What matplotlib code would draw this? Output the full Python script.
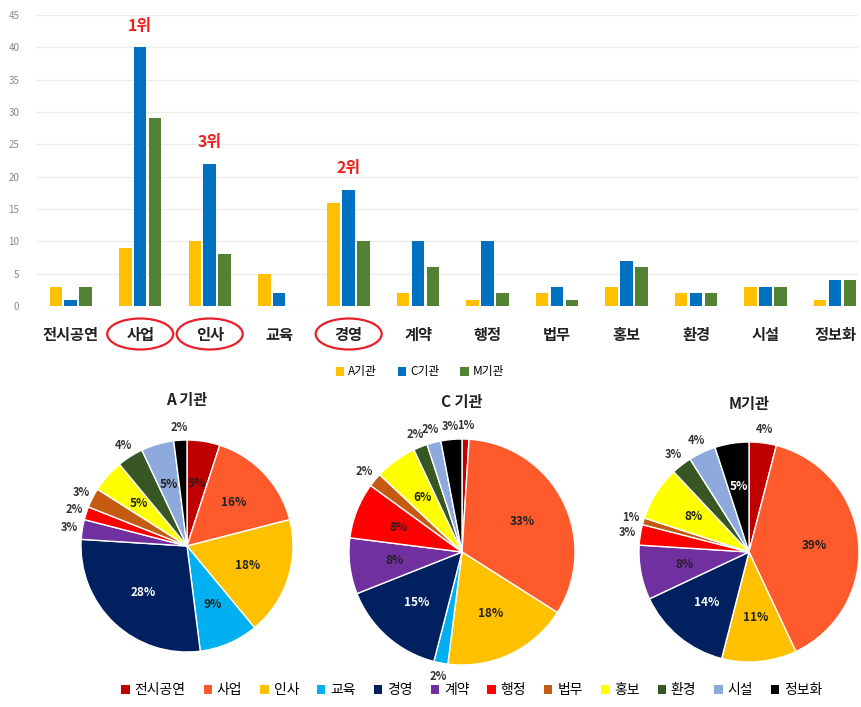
import numpy as np
import matplotlib.pyplot as plt
from matplotlib.patches import Ellipse, Patch
from matplotlib.transforms import blended_transform_factory

plt.rcParams['font.family'] = ['Noto Sans CJK KR', 'DejaVu Sans']

categories = ["전시공연", "사업", "인사", "교육", "경영", "계약", "행정", "법무", "홍보", "환경", "시설", "정보화"]
series_names = ["A기관", "C기관", "M기관"]
a_counts = [3, 9, 10, 5, 16, 2, 1, 2, 3, 2, 3, 1]
c_counts = [1, 40, 22, 2, 18, 10, 10, 3, 7, 2, 3, 4]
m_counts = [3, 29, 8, 0, 10, 6, 2, 1, 6, 2, 3, 4]
rank_cats = ["사업", "인사", "경영"]
rank_labels = ["1위", "3위", "2위"]

pie_titles = ["A 기관", "C 기관", "M기관"]
a_pct = [5, 16, 18, 9, 28, 3, 2, 3, 5, 4, 5, 2]
c_pct = [1, 33, 18, 2, 15, 8, 8, 2, 6, 2, 2, 3]
m_pct = [4, 39, 11, 0, 14, 8, 3, 1, 8, 3, 4, 5]

bar_colors = ["#FFC000", "#0070C0", "#548235"]
slice_colors = ["#C00000", "#FF5A2C", "#FFC000", "#00B0F0", "#002060", "#7030A0",
                "#FF0000", "#C55A11", "#FFFF00", "#375623", "#8EA9DB", "#000000"]
W, H = 861, 707

fig = plt.figure(figsize=(W / 100, H / 100), dpi=100)

# --- bar chart ---
ax = fig.add_axes([36 / W, 1 - 306 / H, (858 - 36) / W, 291 / H])
x = np.arange(len(categories))
bw = 0.18
for i, vals in enumerate([a_counts, c_counts, m_counts]):
    ax.bar(x + (i - 1) * 0.215, vals, bw, color=bar_colors[i], label=series_names[i], zorder=3)
ax.set_ylim(0, 45)
ax.set_xlim(-0.5, 11.33)
ax.set_yticks(np.arange(0, 46, 5))
ax.yaxis.grid(True, color="#ECECEC", lw=1, zorder=0)
for s in ax.spines.values():
    s.set_visible(False)
ax.tick_params(axis="y", length=0, labelsize=7, labelcolor="#888888", pad=12)
ax.tick_params(axis="x", length=0, pad=15)
ax.set_xticks(x)
ax.set_xticklabels(categories, fontsize=11, fontweight="bold", color="#222222")

trans = blended_transform_factory(ax.transData, fig.transFigure)
for cat, lab in zip(rank_cats, rank_labels):
    k = categories.index(cat)
    top = max(a_counts[k], c_counts[k], m_counts[k])
    ax.text(k, top + 3.3, lab, color="#F02020", fontsize=11.5, fontweight="bold",
            ha="center", va="center")
    ax.add_patch(Ellipse((k, 1 - 334 / H), 0.95, 31 / H, transform=trans,
                         fill=False, edgecolor="#E8202A", lw=1.6, clip_on=False))

fig.legend(*ax.get_legend_handles_labels(), loc="center", bbox_to_anchor=(420 / W, 1 - 372 / H),
           ncol=3, frameon=False, fontsize=8.5, handlelength=0.7, handleheight=0.7,
           columnspacing=1.8, handletextpad=0.3)

# --- pie charts ---
pies = [(187, 546, 106, a_pct), (462, 552, 113, c_pct), (749, 552, 110, m_pct)]
title_y = [400, 402, 404]
for (cx, cy, r, pct), title, ty in zip(pies, pie_titles, title_y):
    pax = fig.add_axes([(cx - r) / W, 1 - (cy + r) / H, 2 * r / W, 2 * r / H])
    wedges, _ = pax.pie(pct, colors=slice_colors, startangle=90, counterclock=False,
                        wedgeprops=dict(edgecolor="white", linewidth=1))
    pax.set_xlim(-1, 1)
    pax.set_ylim(-1, 1)
    for w, p, col in zip(wedges, pct, slice_colors):
        if p == 0:
            continue
        ang = np.deg2rad((w.theta1 + w.theta2) / 2)
        if p >= 5:
            d, fs = 0.6, 8.5
            tc = "white" if col in ("#002060", "#000000") else "#222222"
        else:
            d, fs = 1.12, 8
            tc = "#333333"
        pax.text(d * np.cos(ang), d * np.sin(ang), f"{p}%", ha="center", va="center",
                 fontsize=fs, fontweight="bold", color=tc)
    fig.text(cx / W, 1 - ty / H, title, ha="center", va="center", fontsize=11,
             fontweight="bold", color="#222222")

handles = [Patch(facecolor=c, edgecolor="none") for c in slice_colors]
fig.legend(handles, categories, loc="center", bbox_to_anchor=(472 / W, 1 - 690 / H),
           ncol=12, frameon=False, fontsize=10, handlelength=0.6, handleheight=0.6,
           columnspacing=1.3, handletextpad=0.35)

fig.savefig("out.png", dpi=100)
